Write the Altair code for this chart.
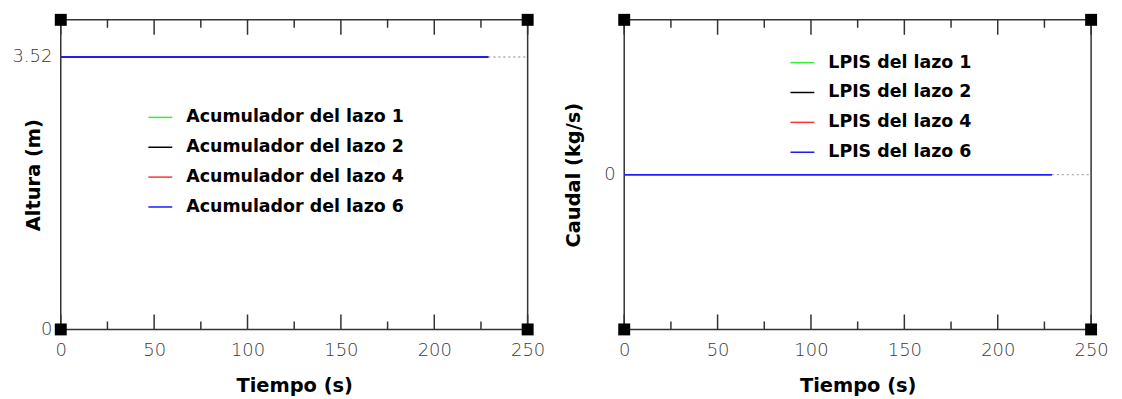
import altair as alt
import pandas as pd

# ---------------- data ----------------
time_domain = [0, 250]
time_end_data = 229
major_ticks = [0, 50, 100, 150, 200, 250]
minor_ticks = [25, 75, 125, 175, 225]

left_series = ["Acumulador del lazo 1", "Acumulador del lazo 2",
               "Acumulador del lazo 4", "Acumulador del lazo 6"]
right_series = ["LPIS del lazo 1", "LPIS del lazo 2",
                "LPIS del lazo 4", "LPIS del lazo 6"]
series_colors = ["#33ee33", "#000000", "#ff3333", "#1a1aff"]
left_values = [3.52, 3.52, 3.52, 3.52]
right_values = [0, 0, 0, 0]
left_domain = [0, 4]
right_domain = [-1, 1]
left_yticks = [0, 3.52]
right_yticks = [0]

W, H = 469, 311
FONT = "DejaVu Sans"


def panel(names, values, ydomain, yticks, ytitle, legend_x, legend_y, title_x):
    rows = []
    for n, v in zip(names, values):
        rows.append({"serie": n, "t": time_domain[0], "v": v})
        rows.append({"serie": n, "t": time_end_data, "v": v})
    df = pd.DataFrame(rows)

    xs = alt.Scale(domain=time_domain, nice=False, zero=False)
    ys = alt.Scale(domain=ydomain, nice=False, zero=False)

    xaxis = alt.Axis(values=major_ticks, format="d", ticks=False, domain=False,
                     grid=False, title="Tiempo (s)", labelPadding=12,
                     labelFlush=False, titlePadding=17)
    yaxis = alt.Axis(values=yticks,
                     labelExpr="datum.value == 0 ? '0' : format(datum.value, '.2f')",
                     ticks=False, domain=False, labelFlush=False,
                     grid=False, title=ytitle, labelPadding=9,
                     titleX=title_x, titleY=H / 2, titleAlign="center",
                     titleBaseline="middle", titleAngle=-90)

    lines = alt.Chart(df).mark_line(strokeWidth=1.5).encode(
        x=alt.X("t:Q", scale=xs, axis=xaxis),
        y=alt.Y("v:Q", scale=ys, axis=yaxis),
        color=alt.Color("serie:N",
                        scale=alt.Scale(domain=names, range=series_colors),
                        legend=alt.Legend(orient="none", legendX=legend_x,
                                          legendY=legend_y, title=None,
                                          symbolType="stroke", symbolSize=576,
                                          symbolStrokeWidth=1.5,
                                          labelFont=FONT, labelFontSize=17.5,
                                          labelFontWeight="bold",
                                          labelColor="#000000", labelLimit=0,
                                          labelOffset=13, rowPadding=8,
                                          padding=0)),
    )

    top_df = df[df["serie"] == names[-1]]
    top_line = alt.Chart(top_df).mark_line(strokeWidth=1.5, color=series_colors[-1]).encode(
        x=alt.X("t:Q", scale=xs), y=alt.Y("v:Q", scale=ys))

    ext_df = pd.DataFrame({"t": [time_end_data, time_domain[1]],
                           "v": [values[-1], values[-1]]})
    ext = alt.Chart(ext_df).mark_line(strokeWidth=1.5, color="#aaaaaa",
                                      strokeDash=[2, 3]).encode(
        x=alt.X("t:Q", scale=xs), y=alt.Y("v:Q", scale=ys))

    maj = pd.DataFrame({"t": major_ticks})
    mnr = pd.DataFrame({"t": minor_ticks})
    tick_layers = []
    for d, ln in ((maj, 15), (mnr, 8)):
        tick_layers.append(alt.Chart(d).mark_rule(color="#333333", strokeWidth=1.5).encode(
            x=alt.X("t:Q", scale=xs), y=alt.value(H), y2=alt.value(H - ln)))
        tick_layers.append(alt.Chart(d).mark_rule(color="#333333", strokeWidth=1.5).encode(
            x=alt.X("t:Q", scale=xs), y=alt.value(0), y2=alt.value(ln)))

    corners = pd.DataFrame({"t": [time_domain[0], time_domain[1], time_domain[0], time_domain[1]],
                            "v": [ydomain[0], ydomain[0], ydomain[1], ydomain[1]]})
    sq = alt.Chart(corners).mark_square(size=144, color="#000000", opacity=1,
                                        filled=True).encode(
        x=alt.X("t:Q", scale=xs), y=alt.Y("v:Q", scale=ys))

    return alt.layer(lines, top_line, ext, *tick_layers, sq).properties(width=W, height=H)


left = panel(left_series, left_values, left_domain, left_yticks, "Altura (m)", 87, 85, -27)
right = panel(right_series, right_values, right_domain, right_yticks, "Caudal (kg/s)", 166, 30, -51)

chart = alt.hconcat(left, right, spacing=97, bounds="flush").resolve_scale(
    color="independent", x="independent", y="independent"
).properties(
    padding={"left": 3, "top": 4, "right": 5, "bottom": 0}
).configure_view(
    stroke="#333333", strokeWidth=1.5
).configure_axis(
    labelFont=FONT, labelFontSize=18, labelColor="#3a3a3a", labelFontWeight=300,
    titleFont=FONT, titleFontSize=19.5, titleFontWeight="bold", titleColor="#000000"
)

chart.save("out.html", embed_options={"renderer": "svg", "actions": False})
